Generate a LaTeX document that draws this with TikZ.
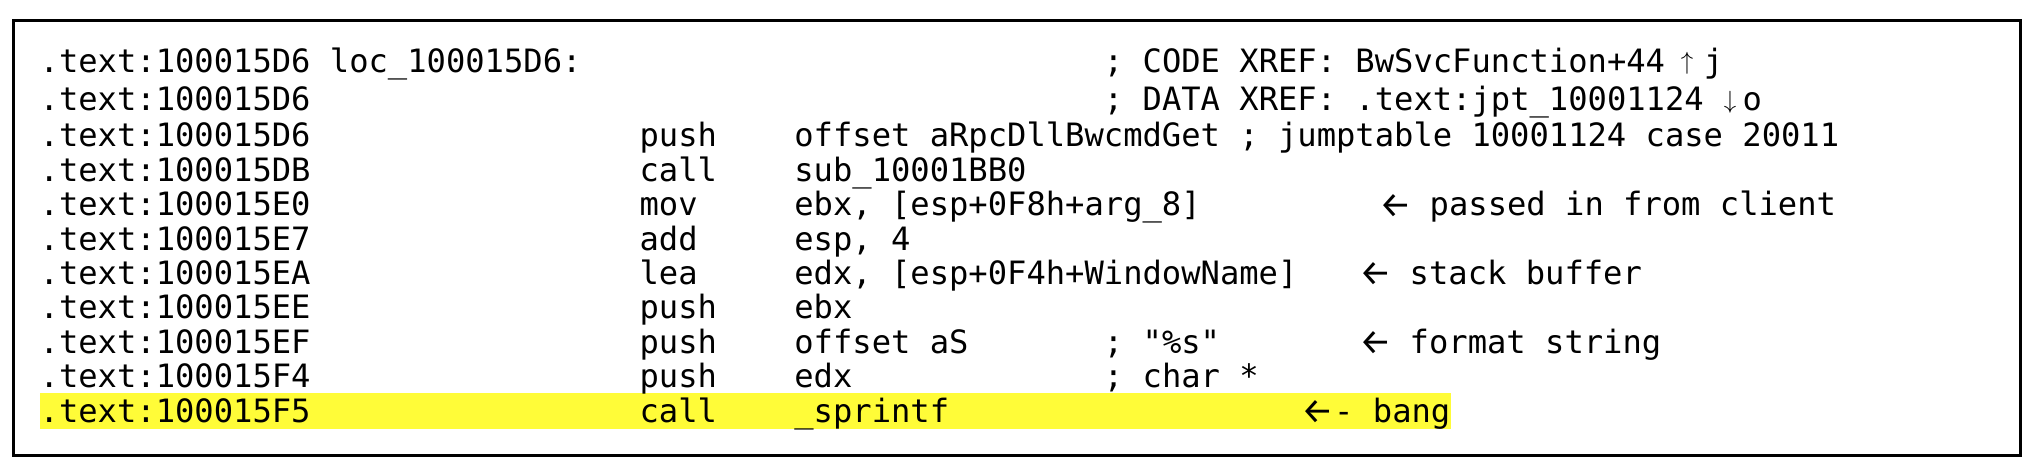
\documentclass[tikz,border=0pt]{standalone}
\usepackage{fontspec}
\setmonofont{DejaVu Sans Mono}
\newfontfamily\arrowfont{Fira Sans}
\definecolor{hlyellow}{RGB}{255,252,56}
\newcommand\codefont{\ttfamily\fontsize{32.14pt}{38pt}\selectfont}
\newcommand\arrfont{\arrowfont\fontsize{36pt}{42pt}\selectfont}
\newcommand\mathfont{\fontsize{32pt}{38pt}\selectfont}
\begin{document}
\begin{tikzpicture}[x=1pt,y=-1pt,
  code/.style={anchor=base west, inner sep=0pt, font=\codefont},
  arr/.style={anchor=base west, inner sep=0pt, font=\arrfont},
  xarr/.style={anchor=base, inner sep=0pt, font=\mathfont},
  frame/.style={draw=black, line width=2.3pt},
  hl/.style={fill=hlyellow}]
\useasboundingbox (0,0) rectangle (2042,469);
\draw[frame] (13.5,20.5) rectangle (2020.5,455.5);
\fill[hl] (39.5,393) rectangle (1450.5,428.5);
% row 1
\node[code] (a1) at (39.5,72) {.text:100015D6};
\node[code] (l1) at ({39.5+15*19.35},72) {loc\_100015D6:};
\node[code] (c1) at ({39.5+55*19.35},72) {; CODE XREF: BwSvcFunction+44};
\node[xarr] (u1) at (1687,69) {$\uparrow$};
\node[code] (j1) at ({39.5+86*19.35},72) {j};
% row 2
\node[code] (a2) at (39.5,110) {.text:100015D6};
\node[code] (c2) at ({39.5+55*19.35},110) {; DATA XREF: .text:jpt\_10001124};
\node[xarr] (d2) at (1730,108) {$\downarrow$};
\node[code] (o2) at ({39.5+88*19.35},110) {o};
% row 3
\node[code] (a3) at (39.5,146.5) {.text:100015D6};
\node[code] (m3) at ({39.5+31*19.35},146.5) {push};
\node[code] (p3) at ({39.5+39*19.35},146.5) {offset aRpcDllBwcmdGet ; jumptable 10001124 case 20011};
% row 4
\node[code] (a4) at (39.5,181) {.text:100015DB};
\node[code] (m4) at ({39.5+31*19.35},181) {call};
\node[code] (p4) at ({39.5+39*19.35},181) {sub\_10001BB0};
% row 5
\node[code] (a5) at (39.5,215.5) {.text:100015E0};
\node[code] (m5) at ({39.5+31*19.35},215.5) {mov};
\node[code] (p5) at ({39.5+39*19.35},215.5) {ebx, [esp+0F8h+arg\_8]};
\node[arr] (r5) at (1379,217) {←};
\node[code] (t5) at (1429.5,215.5) {passed in from client};
% row 6
\node[code] (a6) at (39.5,250) {.text:100015E7};
\node[code] (m6) at ({39.5+31*19.35},250) {add};
\node[code] (p6) at ({39.5+39*19.35},250) {esp, 4};
% row 7
\node[code] (a7) at (39.5,284) {.text:100015EA};
\node[code] (m7) at ({39.5+31*19.35},284) {lea};
\node[code] (p7) at ({39.5+39*19.35},284) {edx, [esp+0F4h+WindowName]};
\node[arr] (r7) at (1359,285.5) {←};
\node[code] (t7) at (1409.5,284) {stack buffer};
% row 8
\node[code] (a8) at (39.5,318.5) {.text:100015EE};
\node[code] (m8) at ({39.5+31*19.35},318.5) {push};
\node[code] (p8) at ({39.5+39*19.35},318.5) {ebx};
% row 9
\node[code] (a9) at (39.5,353) {.text:100015EF};
\node[code] (m9) at ({39.5+31*19.35},353) {push};
\node[code] (p9) at ({39.5+39*19.35},353) {offset aS};
\node[code] (c9) at ({39.5+55*19.35},353) {; "\%s"};
\node[arr] (r9) at (1359,354.5) {←};
\node[code] (t9) at (1409.5,353) {format string};
% row 10
\node[code] (a10) at (39.5,387.5) {.text:100015F4};
\node[code] (m10) at ({39.5+31*19.35},387.5) {push};
\node[code] (p10) at ({39.5+39*19.35},387.5) {edx};
\node[code] (c10) at ({39.5+55*19.35},387.5) {; char *};
% row 11
\node[code] (a11) at (39.5,422) {.text:100015F5};
\node[code] (m11) at ({39.5+31*19.35},422) {call};
\node[code] (p11) at ({39.5+39*19.35},422) {\_sprintf};
\node[arr] (r11) at (1301,423.5) {←};
\node[code] (t11) at (1334,422) {- bang};
\end{tikzpicture}
\end{document}
